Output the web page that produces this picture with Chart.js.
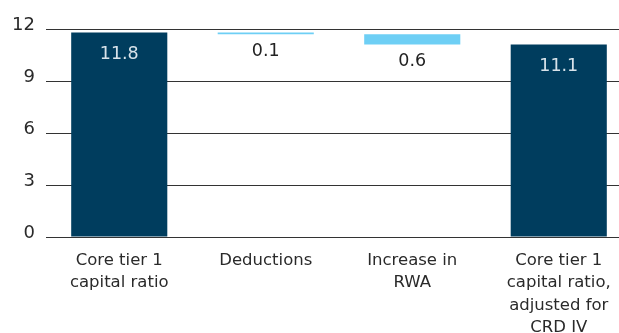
<!DOCTYPE html>
<html>
<head>
<meta charset="utf-8">
<script src="https://cdn.jsdelivr.net/npm/chart.js@4/dist/chart.umd.min.js"></script>
<style>
  html, body { margin: 0; padding: 0; background: #fff; overflow: hidden; }
  #wrap { width: 632px; height: 333px; }
</style>
</head>
<body>
<div id="wrap"><canvas id="capitalChart" width="632" height="333"></canvas></div>
<script>
// waterfall: core tier 1 ratio before and after CRD IV
const categories = [
  ["Core tier 1", "capital ratio"],
  "Deductions",
  ["Increase in", "RWA"],
  ["Core tier 1", "capital ratio,", "adjusted for", "CRD IV"]
];
const values = [11.8, 0.1, 0.6, 11.1];
const kinds = ["total", "decrease", "decrease", "total"];
const yTicks = [0, 3, 6, 9, 12];

const navy = "#003d5e";
const lightBlue = "#6ecff5";
const font = "'DejaVu Sans'";

document.addEventListener("DOMContentLoaded", function () {
  const ctx = document.getElementById("capitalChart").getContext("2d");

  // turn the step values into floating [from, to] ranges
  let running = 0;
  const ranges = values.map(function (v, i) {
    if (kinds[i] === "total") {
      running = v;
      return [0, v];
    }
    const top = running;
    running = running - v;
    return [running, top];
  });

  // value text: inside the top of the totals, under the floating steps
  const valueLabels = {
    id: "valueLabels",
    afterDatasetsDraw(chart) {
      const c = chart.ctx;
      const meta = chart.getDatasetMeta(0);
      c.save();
      c.font = "17.5px " + font;
      c.textAlign = "center";
      c.textBaseline = "alphabetic";
      meta.data.forEach(function (bar, i) {
        const text = values[i].toFixed(1);
        if (kinds[i] === "total") {
          c.fillStyle = "#d8e3ea";
          c.fillText(text, bar.x, bar.y + 26.5);
        } else {
          c.fillStyle = "#222";
          c.fillText(text, bar.x, bar.base + 21.5);
        }
      });
      c.restore();
    }
  };

  new Chart(ctx, {
    type: "bar",
    data: {
      labels: categories,
      datasets: [{
        data: ranges,
        backgroundColor: kinds.map(k => k === "total" ? navy : lightBlue),
        borderWidth: 0,
        borderSkipped: false,
        barPercentage: 0.656,
        categoryPercentage: 1
      }]
    },
    options: {
      responsive: false,
      animation: false,
      layout: { padding: { top: 29, right: 0, left: 0, bottom: 0 } },
      plugins: {
        legend: { display: false },
        tooltip: { enabled: false }
      },
      scales: {
        x: {
          grid: { display: false, drawTicks: false },
          border: { display: false },
          ticks: {
            color: "#2a2a2a",
            padding: 13,
            maxRotation: 0,
            autoSkip: false,
            font: { family: font, size: 16.5, lineHeight: 1.34 }
          },
          afterFit(scale) { scale.height = 96; }
        },
        y: {
          min: 0,
          max: 12,
          afterBuildTicks(scale) {
            scale.ticks = yTicks.map(v => ({ value: v }));
          },
          grid: { color: "#333", lineWidth: 1, drawTicks: false },
          border: { display: false },
          ticks: {
            color: "#2a2a2a",
            padding: 11,
            // empty second line lifts the number a little above its grid line
            callback: v => [String(v), ""],
            font: { family: font, size: 18, lineHeight: 0.4 }
          },
          afterFit(scale) { scale.width = 46; }
        }
      }
    },
    plugins: [valueLabels]
  });
});
</script>
</body>
</html>
